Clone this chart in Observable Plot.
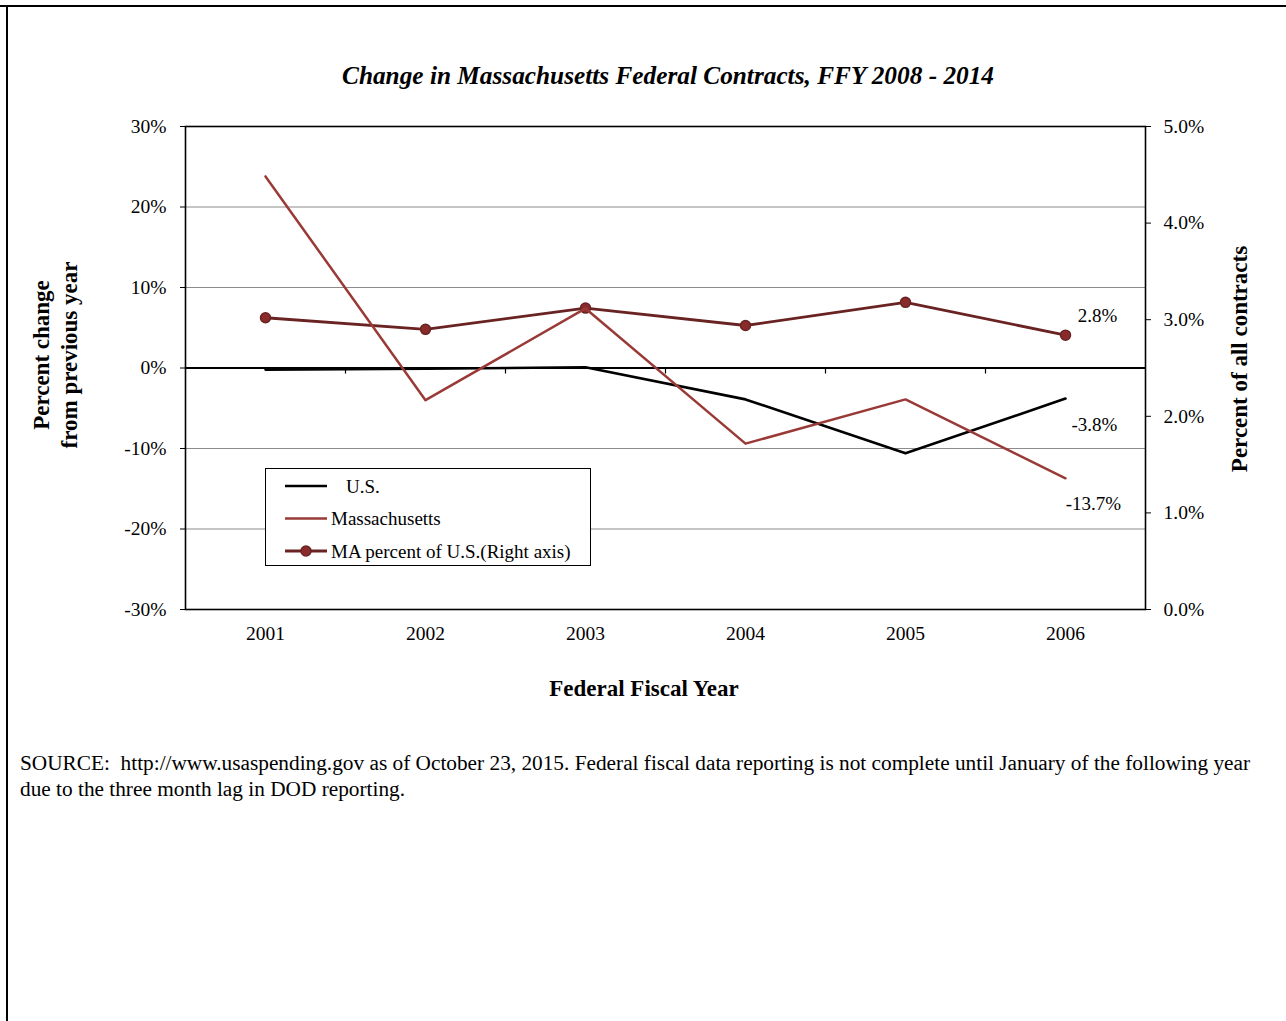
<!DOCTYPE html>
<html>
<head>
<meta charset="utf-8">
<script src="https://cdn.jsdelivr.net/npm/d3@7"></script>
<script src="https://cdn.jsdelivr.net/npm/@observablehq/plot@0.6"></script>
<style>
  body { margin: 0; background: #fff; }
  #page { position: relative; width: 1286px; height: 1021px; overflow: hidden; font-family: "Liberation Serif", "Times New Roman", serif; color: #000; background: #fff; }
  .abs { position: absolute; white-space: nowrap; }
  #chart { position: absolute; left: 0; top: 0; }
  #chart svg text { font-family: "Liberation Serif", "Times New Roman", serif; }
  .title { font-weight: bold; font-style: italic; font-size: 25.3px; }
  .axt { font-weight: bold; font-size: 23px; }
  .rot { transform: translate(-50%, -50%) rotate(-90deg); text-align: center; line-height: 28px; }
  .legend { border: 1.3px solid #000; background: #fff; }
  .src { font-size: 21.3px; line-height: 26px; }
</style>
</head>
<body>
<div id="page">
  <div class="abs" style="left:0;top:5px;width:1286px;height:2px;background:#000"></div>
  <div class="abs" style="left:6px;top:5px;width:2px;height:1016px;background:#000"></div>
  <div id="chart"></div>
  <div class="abs title" style="left:668px;top:75px;transform:translate(-50%,-50%)">Change in Massachusetts Federal Contracts, FFY 2008 - 2014</div>
  <div class="abs axt rot" style="left:56px;top:355px">Percent change<br>from previous year</div>
  <div class="abs axt rot" style="left:1240px;top:359px">Percent of all contracts</div>
  <div class="abs axt" style="left:644px;top:689px;transform:translate(-50%,-50%)">Federal Fiscal Year</div>
  <div id="legend" class="abs legend" style="left:265px;top:468px;width:324px;height:96px"></div>
  <div class="abs src" style="left:20px;top:750px">SOURCE:&nbsp; http://www.usaspending.gov as of October 23, 2015. Federal fiscal data reporting is not complete until January of the following year<br>due to the three month lag in DOD reporting.</div>
</div>
<script>
// ---- data ----
const years = [2001, 2002, 2003, 2004, 2005, 2006];
const usChange = [-0.2, -0.1, 0.1, -3.9, -10.6, -3.8];
const maChange = [23.8, -4.0, 7.4, -9.4, -3.9, -13.7];
const maShare = [3.02, 2.90, 3.12, 2.94, 3.18, 2.84];
const leftTicks = [-30, -20, -10, 0, 10, 20, 30];
const rightTicks = [0, 1, 2, 3, 4, 5];
const gridValues = [-20, -10, 10, 20];
const seriesNames = ["U.S.", "Massachusetts", "MA percent of U.S.(Right axis)"];

// ---- helpers ----
const leftMin = -30, leftMax = 30, rightMin = 0, rightMax = 5;
const toLeft = v => (v - rightMin) / (rightMax - rightMin) * (leftMax - leftMin) + leftMin;
const fromLeft = v => (v - leftMin) / (leftMax - leftMin) * (rightMax - rightMin) + rightMin;

const serif = "Liberation Serif, Times New Roman, serif";
const colUS = "#000000", colMA = "#9a3a37", colShare = "#6a2323", colDot = "#8a2b2b";

const usData = years.map((y, i) => ({year: y, v: usChange[i]}));
const maData = years.map((y, i) => ({year: y, v: maChange[i]}));
const shareData = years.map((y, i) => ({year: y, v: toLeft(maShare[i]), raw: maShare[i]}));
const dividers = years.slice(0, -1).map(y => y + 0.5);
const last = years.length - 1;
const fmtPct = v => v.toFixed(1) + "%";

const chart = Plot.plot({
  width: 1286,
  height: 720,
  marginTop: 126,
  marginBottom: 111,
  marginLeft: 185,
  marginRight: 141,
  style: {fontFamily: serif, fontSize: "19px", color: "#000", background: "transparent", overflow: "visible"},
  x: {type: "linear", domain: [years[0] - 0.5, years[last] + 0.5]},
  y: {domain: [leftMin, leftMax]},
  marks: [
    Plot.ruleY(gridValues, {stroke: "#8c8c8c", strokeWidth: 1.2}),
    Plot.ruleY([0], {stroke: "#000", strokeWidth: 2}),
    Plot.ruleX(dividers, {y1: 0, y2: -0.75, stroke: "#000", strokeWidth: 1.2}),
    Plot.frame({stroke: "#000", strokeWidth: 1.6}),
    Plot.axisY(leftTicks, {anchor: "left", tickSize: 5, tickPadding: 14, tickFormat: d => d + "%", label: null, stroke: "#000", fontSize: 19.5, fontFamily: serif}),
    Plot.axisY(rightTicks.map(toLeft), {anchor: "right", tickSize: 5, tickPadding: 13, tickFormat: d => fromLeft(d).toFixed(1) + "%", label: null, stroke: "#000", fontSize: 19.5, fontFamily: serif}),
    Plot.axisX(years, {anchor: "bottom", tickSize: 0, tickPadding: 17, tickFormat: d => String(d), label: null, fontSize: 19.5, fontFamily: serif}),
    Plot.line(usData, {x: "year", y: "v", stroke: colUS, strokeWidth: 2.6}),
    Plot.line(shareData, {x: "year", y: "v", stroke: colShare, strokeWidth: 2.8}),
    Plot.dot(shareData, {x: "year", y: "v", r: 5, fill: colDot, stroke: colShare, strokeWidth: 1.5}),
    Plot.line(maData, {x: "year", y: "v", stroke: colMA, strokeWidth: 2.5}),
    Plot.text([shareData[last]], {x: "year", y: "v", text: d => fmtPct(d.raw), dx: 32, dy: -19, fontSize: 19, fontFamily: serif}),
    Plot.text([usData[last]], {x: "year", y: "v", text: d => fmtPct(d.v), dx: 29, dy: 26, fontSize: 19, fontFamily: serif}),
    Plot.text([maData[last]], {x: "year", y: "v", text: d => fmtPct(d.v), dx: 28, dy: 26, fontSize: 19, fontFamily: serif})
  ]
});
document.getElementById("chart").appendChild(chart);

// ---- legend ----
const legendItems = [
  {name: seriesNames[0], color: colUS, dot: false, textX: 80},
  {name: seriesNames[1], color: colMA, dot: false, textX: 65},
  {name: seriesNames[2], color: colShare, dot: true, textX: 65}
];
const lg = d3.select("#legend").append("svg").attr("width", 324).attr("height", 96).style("font-family", serif).style("font-size", "19px");
legendItems.forEach((it, i) => {
  const cy = 17 + i * 32.5;
  lg.append("line").attr("x1", 19).attr("x2", 61).attr("y1", cy).attr("y2", cy).attr("stroke", it.color).attr("stroke-width", it.dot ? 2.8 : 2.6);
  if (it.dot) lg.append("circle").attr("cx", 40).attr("cy", cy).attr("r", 5).attr("fill", colDot).attr("stroke", colShare).attr("stroke-width", 1.5);
  lg.append("text").attr("x", it.textX).attr("y", cy).attr("dy", "0.35em").text(it.name);
});
</script>
</body>
</html>
